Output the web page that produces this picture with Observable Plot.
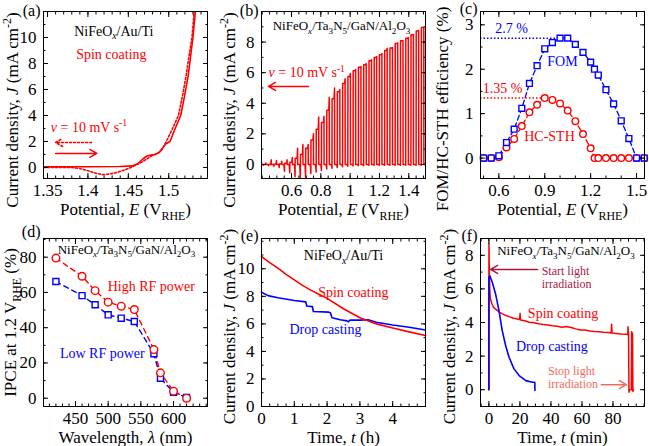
<!DOCTYPE html>
<html><head><meta charset="utf-8">
<script src="https://cdn.jsdelivr.net/npm/d3@7"></script>
<script src="https://cdn.jsdelivr.net/npm/@observablehq/plot@0.6"></script>
<style>
html,body{margin:0;padding:0;background:#fff;}
#root{position:relative;width:649px;height:446px;overflow:hidden;}
#root svg{position:absolute;}
</style></head><body><div id="root"></div>
<script>
// ================= DATA =================
const RED = "#ff0000", BLUE = "#0000ff", MAROON = "#a8193f", SALMON = "#f26b5b";

// (a) LSV NiFeOx/Au/Ti  [E (V_RHE), J (mA cm-2)]
const aForward = [[1.345,0.05],[1.40,0.05],[1.44,0.07],[1.455,0.12],[1.462,0.3],[1.468,0.65],[1.473,0.88],[1.478,0.95],[1.483,1.0],[1.488,1.15],[1.492,1.45],[1.496,1.8],[1.5016,2.0],[1.508,3.0],[1.5148,4.0],[1.519,5.3],[1.524,7.0],[1.527,8.5],[1.530,10.0],[1.533,12.0],[1.535,13.0]];
const aReverse = [[1.345,0.0],[1.38,0.0],[1.39,-0.08],[1.40,-0.25],[1.41,-0.45],[1.418,-0.55],[1.425,-0.52],[1.435,-0.4],[1.445,-0.2],[1.455,0.05],[1.465,0.35],[1.473,0.65],[1.479,0.9],[1.483,1.0],[1.487,1.1],[1.492,1.4],[1.497,2.0],[1.504,2.9],[1.512,4.0],[1.517,5.5],[1.5214,7.0],[1.525,8.5],[1.5288,10.0],[1.5315,12.0],[1.534,13.0]];
const aNotes = [
  {text: "NiFeO_[x]/Au/Ti", x: 1.432, y: 10.54, color: "black", anchor: "middle", size: 14},
  {text: "Spin coating", x: 1.429, y: 8.77, color: RED, anchor: "middle", size: 14},
  {text: "*v* = 10 mV s^{-1}", x: 1.354, y: 3.15, color: RED, anchor: "start", size: 14}
];
const aArrows = [{x1: 1.4045, x2: 1.360, y: 1.92, dash: "2,2"}, {x1: 1.360, x2: 1.411, y: 1.08, dash: null}];

// (b) chopped LSV: per light cycle (scan 1.5 -> 0.4 V)
const bCycleE = [1.503,1.468,1.432,1.397,1.361,1.325,1.289,1.253,1.217,1.181,1.146,1.110,1.074,1.038,1.002,0.966,0.930,0.894,0.858,0.822,0.786,0.750,0.714,0.678,0.642,0.606,0.570,0.534,0.498,0.462,0.426];
const bLightJ = [8.95,8.72,8.48,8.25,8.08,7.9,7.62,7.45,7.18,7.0,6.78,6.52,6.35,6.12,5.75,5.3,4.75,4.3,3.55,2.75,2.3,1.6,1.05,0.65,0.4,0.15,0.08,0.03,0.02,0.0,0.0];
const bPeakJ  = [8.95,8.75,8.5,8.3,8.1,7.95,7.65,7.6,7.25,7.05,6.85,6.6,6.4,6.2,5.95,5.6,4.9,5.0,4.4,3.15,3.1,2.0,1.3,1.3,1.05,0.45,0.3,0.2,0.25,0.3,0.1];
const bDarkJ  = [-0.05,-0.05,-0.05,-0.05,-0.05,-0.05,-0.05,-0.05,-0.05,-0.05,-0.05,-0.08,-0.08,-0.1,-0.12,-0.15,-0.2,-0.25,-0.3,-0.4,-0.5,-0.6,-0.85,-0.92,-0.8,-0.55,-0.45,-0.2,-0.12,-0.08,-0.05];
const bNotes = [
  {text: "NiFeO_[x]/Ta_{3}N_{5}/GaN/Al_{2}O_{3}", x: 0.941, y: 9.09, color: "black", anchor: "middle", size: 13},
  {text: "*v* = 10 mV s^{-1}", x: 0.443, y: 6.02, color: RED, anchor: "start", size: 14}
];
const bArrows = [{x1: 0.716, x2: 0.443, y: 5.1, dash: null}];

// (c) FOM / HC-STH efficiency (%)
const cPotential = [0.5,0.55,0.6,0.65,0.7,0.75,0.8,0.85,0.9,0.95,1.0,1.05,1.1,1.15,1.2,1.225,1.25,1.3,1.35,1.4,1.45,1.5,1.55];
const cFOM = [0,0,0.05,0.35,0.65,1.12,1.68,2.08,2.46,2.6,2.7,2.7,2.56,2.38,2.16,2.0,1.87,1.54,1.22,0.84,0.44,0,0];
const cSTH = [0,0,0.02,0.24,0.43,0.72,1.03,1.2,1.35,1.31,1.23,1.07,0.83,0.54,0.22,0,0,0,0,0,0,0,0];
const cGuides = [{x1: 0.48, x2: 1.0, y: 2.7, color: BLUE}, {x1: 0.48, x2: 0.9, y: 1.35, color: RED}];
const cNotes = [
  {text: "2.7 %", x: 0.683, y: 2.92, color: BLUE, anchor: "middle", size: 14},
  {text: "1.35 %", x: 0.624, y: 1.57, color: RED, anchor: "middle", size: 14},
  {text: "FOM", x: 1.016, y: 2.18, color: BLUE, anchor: "middle", size: 14},
  {text: "HC-STH", x: 0.931, y: 0.49, color: RED, anchor: "middle", size: 14}
];

// (d) IPCE at 1.2 V_RHE (%)
const dWavelength = [420,460,480,500,520,540,570,580,600,620];
const dHighRF = [79.5,69.2,61,54.5,52.2,50.3,27.6,14.4,4.0,0];
const dLowRF  = [66.2,58.2,53,47.3,45.4,43.5,25.2,11.3,3.4,0.4];
const dNotes = [
  {text: "NiFeO_[x]/Ta_{3}N_{5}/GaN/Al_{2}O_{3}", x: 528, y: 84.7, color: "black", anchor: "middle", size: 13},
  {text: "High RF power", x: 566, y: 63.4, color: RED, anchor: "middle", size: 14},
  {text: "Low RF power", x: 491, y: 25.9, color: BLUE, anchor: "middle", size: 14}
];

// (e) stability NiFeOx/Au/Ti  [t (h), J]
const eSpin = [[0,10.9],[0.1,10.7],[0.25,10.45],[0.5,10.05],[0.75,9.6],[1,9.2],[1.25,8.8],[1.5,8.45],[1.75,8.15],[2,7.85],[2.5,7.1],[3,6.45],[3.5,6.0],[4,5.7],[4.5,5.42],[5,5.15]];
const eDrop = [[0,8.3],[0.2,8.05],[0.5,7.9],[1.0,7.7],[1.35,7.6],[1.38,7.3],[1.55,7.25],[1.58,6.9],[2.05,6.85],[2.1,6.8],[2.15,6.45],[2.4,6.3],[2.6,6.22],[2.65,6.15],[2.7,6.28],[3.0,6.27],[3.25,6.3],[3.5,6.12],[4.0,5.92],[4.5,5.75],[5.0,5.55]];
const eNotes = [
  {text: "NiFeO_[x]/Au/Ti", x: 2.5, y: 11.0, color: "black", anchor: "middle", size: 14},
  {text: "Spin coating", x: 2.8, y: 8.3, color: RED, anchor: "middle", size: 14},
  {text: "Drop casting", x: 1.95, y: 5.6, color: BLUE, anchor: "middle", size: 14}
];

// (f) stability NiFeOx/Ta3N5/GaN/Al2O3  [t (min), J]
const fSpin = [[0,0],[0.05,8.7],[0.3,7.0],[0.6,5.9],[1,5.4],[2,5.1],[3,4.9],[5,4.75],[7,4.6],[10,4.45],[13,4.35],[16,4.25],[19,4.2],[19.8,4.18],[20.1,4.55],[20.4,4.15],[23,4.1],[26,4.02],[29,3.98],[32,3.92],[35,3.88],[38,3.85],[41,3.8],[44,3.78],[47,3.72],[50,3.76],[53,3.7],[56,3.62],[59,3.55],[62,3.56],[65,3.5],[68,3.47],[71,3.45],[74,3.42],[77,3.4],[78.8,3.38],[79.1,3.9],[79.4,3.38],[82,3.35],[85,3.32],[88,3.3],[89.5,3.28],[89.7,3.75],[90.0,3.3],[90.3,-0.15],[90.6,0],[91.8,0],[92.0,3.45],[92.6,3.35],[92.8,-0.1],[93.2,0]];
const fDrop = [[0,0],[0.05,6.7],[0.65,6.77],[2.2,6.4],[4.3,5.7],[6.5,4.72],[8.6,3.52],[10.8,2.63],[13,1.93],[16.2,1.24],[19.5,0.84],[23.8,0.54],[28.1,0.44],[29.6,0.44],[29.7,-0.05]];
const fNotes = [
  {text: "NiFeO_[x]/Ta_{3}N_{5}/GaN/Al_{2}O_{3}", x: 49.7, y: 8.3, color: "black", anchor: "middle", size: 13},
  {text: "Start light\nirradiation", x: 34.0, y: 6.69, color: MAROON, anchor: "start", size: 12},
  {text: "Spin coating", x: 47.8, y: 4.54, color: RED, anchor: "middle", size: 14},
  {text: "Drop casting", x: 40.6, y: 2.63, color: BLUE, anchor: "middle", size: 14},
  {text: "Stop light\nirradiation", x: 38.1, y: 0.75, color: SALMON, anchor: "start", size: 12}
];
const fArrows = [{x1: 31.4, x2: 1.1, y: 7.16, color: MAROON}, {x1: 72.4, x2: 88.6, y: 0.3, color: SALMON}];

// ================= HELPERS =================
const SERIF = "Liberation Serif";
const fmt = d => String(d);
const pts = arr => arr.map(([x, y]) => ({x, y}));
const zip = (xs, ys) => xs.map((x, i) => ({x, y: ys[i]}));

function frameAxes(o) {
  const m = [];
  m.push(Plot.axisX(o.xTicks, {anchor: "bottom", tickSize: 0, tickPadding: 5, tickFormat: fmt, label: null}));
  m.push(Plot.axisY(o.yTicks, {anchor: "left", tickSize: 0, tickPadding: 7, tickFormat: fmt, label: null}));
  for (const a of ["top", "bottom"]) {
    m.push(Plot.axisX(o.xMinor, {anchor: a, tickSize: -2.5, fill: "none", label: null}));
    m.push(Plot.axisX(o.xTicks, {anchor: a, tickSize: -5, fill: "none", label: null}));
  }
  for (const a of ["left", "right"]) {
    m.push(Plot.axisY(o.yMinor, {anchor: a, tickSize: -2.5, fill: "none", label: null}));
    m.push(Plot.axisY(o.yTicks, {anchor: a, tickSize: -5, fill: "none", label: null}));
  }
  m.push(Plot.frame({stroke: "black", strokeWidth: 1}));
  return m;
}
function notes(list) {
  return list.map(n => Plot.text([n], {x: "x", y: "y", text: "text", fill: n.color, textAnchor: n.anchor, fontSize: n.size, lineHeight: 1.12}));
}
function arrows(list, color) {
  return list.map(a => Plot.arrow([a], {x1: "x1", x2: "x2", y1: "y", y2: "y", stroke: a.color || color, strokeWidth: 1.5, headLength: 8, strokeDasharray: a.dash || null}));
}

const NS = "http://www.w3.org/2000/svg";
function build(el) {
  const s = el.textContent;
  const fs = parseFloat(getComputedStyle(el).fontSize) || 14;
  el.textContent = "";
  const re = /\*([^*]+)\*|\^\{([^}]*)\}|_\{([^}]*)\}|_\[([^\]]*)\]/g;
  let last = 0, m, shift = 0;
  function add(text, italic, pos) {
    const ts = document.createElementNS(NS, "tspan");
    ts.textContent = text;
    const target = pos === 1 ? -0.42 * fs : pos === -1 ? 0.28 * fs : 0;
    const d = target - shift;
    if (Math.abs(d) > 1e-6) ts.setAttribute("dy", d.toFixed(2));
    shift = target;
    if (pos) ts.setAttribute("font-size", (0.7 * fs).toFixed(1));
    if (italic) ts.setAttribute("font-style", "italic");
    el.appendChild(ts);
  }
  while ((m = re.exec(s))) {
    if (m.index > last) add(s.slice(last, m.index), false, 0);
    if (m[1] !== undefined) add(m[1], true, 0);
    else if (m[2] !== undefined) add(m[2], false, 1);
    else if (m[3] !== undefined) add(m[3], false, -1);
    else add(m[4], true, -1);
    last = re.lastIndex;
  }
  if (last < s.length) add(s.slice(last), false, 0);
}
function richify(svg) {
  svg.querySelectorAll("text").forEach(t => {
    if (t.children.length) return;
    if (/\*|\^\{|_\{|_\[/.test(t.textContent)) build(t);
  });
}

const root = document.getElementById("root");
function panel(c) {
  const svg = Plot.plot({
    width: c.w, height: c.h,
    marginTop: c.mt, marginRight: c.mr, marginBottom: c.mb, marginLeft: c.ml,
    x: {domain: c.xd, axis: null},
    y: {domain: c.yd, axis: null},
    style: {fontFamily: SERIF, fontSize: "17px", background: "transparent", overflow: "visible", color: "black"},
    marks: [
      ...c.marks,
      ...frameAxes(c),
      Plot.text([c.xLabel], {text: d => d, frameAnchor: "bottom", textAnchor: "middle", dy: 31, fontSize: 17, lineAnchor: "middle"}),
      Plot.text([c.yLabel], {text: d => d, frameAnchor: "left", textAnchor: "middle", rotate: -90, dx: -c.yOff, dy: c.yShift, fontSize: 17, lineAnchor: "middle"}),
      Plot.text([c.letter], {text: d => d, frameAnchor: "top-left", textAnchor: "end", dx: -3, dy: c.letterDy, fontSize: 16, lineAnchor: "middle"})
    ]
  });
  svg.style.left = c.left + "px";
  svg.style.top = c.top + "px";
  root.appendChild(svg);
  richify(svg);
}

const JLABEL = "Current density, *J* (mA cm^{-2})";
const ELABEL = "Potential, *E* (V_{RHE})";
const row1 = {top: 0, h: 225, mt: 11, mb: 47};
const row2 = {top: 225, h: 221, mt: 13, mb: 40};
const col1 = {left: 0, w: 218, ml: 43, mr: 11};
const col2 = {left: 218, w: 219, ml: 43, mr: 12};
const col3 = {left: 437, w: 212, ml: 43, mr: 5};

// ---- (b) waveform table from per-cycle readings ----
const bTrace = [{x: 1.512, y: 0}];
bCycleE.forEach((Eon, i) => {
  const Enext = i + 1 < bCycleE.length ? bCycleE[i + 1] : Eon - 0.0358;
  const Eoff = (Eon + Enext) / 2;
  bTrace.push({x: Eon, y: 0}, {x: Eon - 0.0006, y: bPeakJ[i]}, {x: Eon - 0.004, y: bLightJ[i]},
              {x: Eoff + 0.0006, y: bLightJ[i]}, {x: Eoff, y: bDarkJ[i]}, {x: Eoff - 0.004, y: 0});
});
bTrace.push({x: 0.39, y: 0});

// (a)
panel({...row1, ...col1, xd: [1.345, 1.548], yd: [-0.85, 12],
  xTicks: [1.35, 1.4, 1.45, 1.5], xMinor: d3.range(135, 155).map(v => v / 100),
  yTicks: [0, 2, 4, 6, 8, 10], yMinor: d3.range(0, 12),
  xLabel: ELABEL, yLabel: JLABEL, yOff: 31, yShift: 15, letter: "(a)", letterDy: -1,
  marks: [
    Plot.line(pts(aReverse), {x: "x", y: "y", stroke: RED, strokeWidth: 1.6, strokeDasharray: "2,2", clip: true}),
    Plot.line(pts(aForward), {x: "x", y: "y", stroke: RED, strokeWidth: 1.6, clip: true}),
    ...notes(aNotes), ...arrows(aArrows, RED)
  ]});

// (b)
panel({...row1, ...col2, xd: [0.395, 1.514], yd: [-0.92, 10],
  xTicks: [0.6, 0.8, 1, 1.2, 1.4], xMinor: d3.range(8, 31).map(v => v / 20),
  yTicks: [0, 2, 4, 6, 8], yMinor: d3.range(0, 11),
  xLabel: ELABEL, yLabel: JLABEL, yOff: 32, yShift: 15, letter: "(b)", letterDy: -1,
  marks: [
    Plot.line(bTrace, {x: "x", y: "y", stroke: RED, strokeWidth: 1.5, clip: true}),
    ...notes(bNotes), ...arrows(bArrows, RED)
  ]});

// (c)
panel({...row1, ...col3, xd: [0.48, 1.552], yd: [-0.46, 3.3],
  xTicks: [0.6, 0.9, 1.2, 1.5], xMinor: d3.range(5, 16).map(v => v / 10),
  yTicks: [0, 1, 2, 3], yMinor: d3.range(0, 7).map(v => v / 2),
  xLabel: ELABEL, yLabel: "FOM/HC-STH efficiency (%)", yOff: 38, yShift: 14, letter: "(c)", letterDy: -3,
  marks: [
    Plot.ruleY(cGuides, {y: "y", x1: "x1", x2: "x2", stroke: "color", strokeWidth: 1.5, strokeDasharray: "1.5,2"}),
    Plot.line(zip(cPotential, cSTH), {x: "x", y: "y", stroke: RED, strokeWidth: 1.3, strokeDasharray: "5,3"}),
    Plot.line(zip(cPotential, cFOM), {x: "x", y: "y", stroke: BLUE, strokeWidth: 1.3, strokeDasharray: "5,3"}),
    Plot.dot(zip(cPotential, cSTH), {x: "x", y: "y", r: 3.3, stroke: RED, fill: "white", strokeWidth: 1.4}),
    Plot.dot(zip(cPotential, cFOM), {x: "x", y: "y", r: 3.3, symbol: "square", stroke: BLUE, fill: "white", strokeWidth: 1.4}),
    ...notes(cNotes)
  ]});

// (d)
panel({...row2, ...col1, xd: [401, 652], yd: [-4.7, 90.6],
  xTicks: [450, 500, 550, 600], xMinor: d3.range(410, 651, 10),
  yTicks: [0, 20, 40, 60, 80], yMinor: d3.range(0, 91, 10),
  xLabel: "Wavelength, *λ* (nm)", yLabel: "IPCE at 1.2 V_{RHE} (%)", yOff: 33, yShift: 0, letter: "(d)", letterDy: -7,
  marks: [
    Plot.line(zip(dWavelength, dLowRF), {x: "x", y: "y", stroke: BLUE, strokeWidth: 1.4, strokeDasharray: "5,4"}),
    Plot.line(zip(dWavelength, dHighRF), {x: "x", y: "y", stroke: RED, strokeWidth: 1.4, strokeDasharray: "5,4"}),
    Plot.dot(zip(dWavelength, dLowRF), {x: "x", y: "y", r: 3.4, symbol: "square", stroke: BLUE, fill: "white", strokeWidth: 1.4}),
    Plot.dot(zip(dWavelength, dHighRF), {x: "x", y: "y", r: 3.8, stroke: RED, fill: "white", strokeWidth: 1.4}),
    ...notes(dNotes)
  ]});

// (e)
panel({...row2, ...col2, xd: [0, 5], yd: [0, 12.2],
  xTicks: [0, 1, 2, 3, 4], xMinor: d3.range(0, 21).map(v => v / 4),
  yTicks: [0, 2, 4, 6, 8, 10], yMinor: d3.range(0, 13),
  xLabel: "Time, *t* (h)", yLabel: JLABEL, yOff: 32, yShift: 4, letter: "(e)", letterDy: -3,
  marks: [
    Plot.line(pts(eDrop), {x: "x", y: "y", stroke: BLUE, strokeWidth: 1.6}),
    Plot.line(pts(eSpin), {x: "x", y: "y", stroke: RED, strokeWidth: 1.6}),
    ...notes(eNotes)
  ]});

// (f)
panel({...row2, ...col3, xd: [-5.4, 100.3], yd: [-1.0, 9.0],
  xTicks: [0, 20, 40, 60, 80], xMinor: d3.range(-5, 101, 5),
  yTicks: [0, 2, 4, 6, 8], yMinor: d3.range(-1, 10),
  xLabel: "Time, *t* (min)", yLabel: JLABEL, yOff: 31, yShift: 4, letter: "(f)", letterDy: -3,
  marks: [
    Plot.line(pts(fSpin), {x: "x", y: "y", stroke: RED, strokeWidth: 1.5}),
    Plot.line(pts(fDrop), {x: "x", y: "y", stroke: BLUE, strokeWidth: 1.6}),
    ...notes(fNotes), ...arrows(fArrows, RED)
  ]});
</script>
</body></html>
